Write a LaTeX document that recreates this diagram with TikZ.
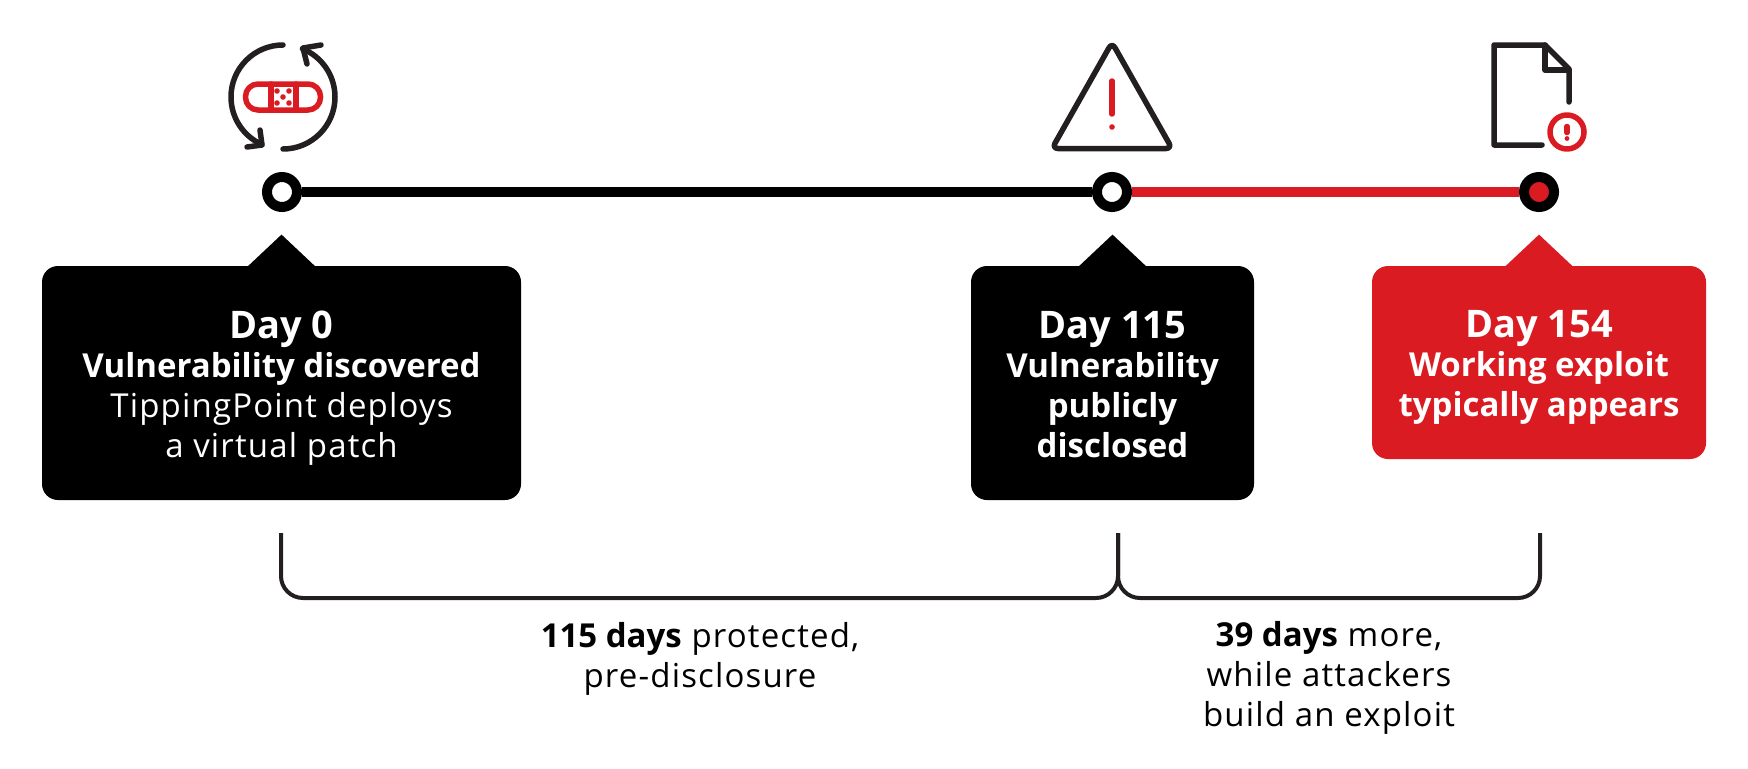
\documentclass[tikz,border=0pt]{standalone}
\usepackage{fontspec}
\setmainfont{Open Sans}[UprightFeatures={LetterSpace=3.5},BoldFeatures={LetterSpace=0}]
\usetikzlibrary{positioning}
\definecolor{alertred}{RGB}{218,27,34}
\definecolor{inkgrey}{RGB}{35,31,32}
\newcommand{\daytitle}[1]{{\fontsize{19}{23}\selectfont\bfseries\rule{0pt}{18.5pt}#1}}

\begin{document}
\begin{tikzpicture}[
  x=0.5pt,y=0.5pt,
  stop/.style={circle,draw=black,line width=5pt,minimum size=15pt,inner sep=0pt,fill=white},
  rail/.style={line width=5pt},
  daybox/.style={rounded corners=8pt,align=center,text=white,inner sep=0pt,font=\fontsize{16.5}{20}\selectfont},
  note/.style={align=center,font=\fontsize{16.5}{20}\selectfont},
  brace/.style={inkgrey,line width=2pt,rounded corners=11pt},
  icon/.style={inkgrey,line width=2.75pt,line cap=round,line join=round},
  redicon/.style={alertred,line width=2.75pt,line cap=round,line join=round}
]
  \useasboundingbox (0,0) rectangle (1748,768);
  % timeline
  \node[stop] (d0) at (282,576) {};
  \node[stop] (d115) at (1112,576) {};
  \node[stop,fill=alertred] (d154) at (1539,576) {};
  \draw[rail,black] (d0) -- (d115);
  \draw[rail,alertred] (d115) -- (d154);
  % boxes
  \node[daybox,fill=black,minimum width=239.5pt,minimum height=117pt] (b0) at (281.5,385) {\daytitle{Day 0}\\[-.5pt]\textbf{Vulnerability discovered}\\TippingPoint deploys\\a virtual patch};
  \node[daybox,fill=black,minimum width=141.5pt,minimum height=117pt] (b115) at (1112.5,385) {\daytitle{Day 115}\\[-.5pt]\textbf{Vulnerability}\\\textbf{publicly}\\\textbf{disclosed}\rule[-3.5pt]{0pt}{1pt}};
  \node[daybox,fill=alertred,minimum width=167pt,minimum height=96.5pt] (b154) at (1539,405.5) {\daytitle{Day 154}\\[-.5pt]\textbf{Working exploit}\\\textbf{typically appears}};
  \foreach \boxname/\tipcol in {b0/black,b115/black,b154/alertred}
    \fill[\tipcol] ([xshift=-17pt,yshift=-.5pt]\boxname.north) -- ([yshift=15.5pt]\boxname.north) -- ([xshift=17pt,yshift=-.5pt]\boxname.north) -- cycle;
  % brackets
  \coordinate (brA) at (281,235);
  \coordinate (brB) at (1118,235);
  \coordinate (brC) at (1540,235);
  \coordinate (brLow) at (0,170);
  \draw[brace] (brA) -- (brA |- brLow) -- (brB |- brLow) -- (brB);
  \draw[brace] (brC) -- (brC |- brLow) -- (brB |- brLow) -- (brB);
  \node[note] (n115) at (700,109.5) {\textbf{115 days} protected,\\pre-disclosure};
  \node[note] (n39) at (1329,90) {\textbf{39 days} more,\\while attackers\\build an exploit};
  % patch icon
  \draw[icon] (283,723) arc[start angle=90,end angle=246,radius=26pt];
  \draw[icon] (247,621) -- (262,623) -- (260,638);
  \draw[icon] (283,619) arc[start angle=270,end angle=428,radius=26pt];
  \draw[icon] (321,723) -- (303,720) -- (307,704);
  \draw[redicon,rounded corners=6.25pt] (245.5,658) rectangle (320.5,684);
  \draw[redicon] (271,658) -- (271,684) (296,658) -- (296,684);
  \foreach \dotx/\doty in {277/677,289/677,283/671,277/665,289/665}
    \fill[alertred] (\dotx,\doty) circle (1.4pt);
  % warning icon
  \draw[icon,rounded corners=3pt] (1112,725.5) -- (1052,619.5) -- (1172,619.5) -- cycle;
  \draw[redicon] (1112,687) -- (1112,654);
  \fill[alertred] (1112,641) circle (1.4pt);
  % file icon
  \draw[icon] (1542,623) -- (1494,623) -- (1494,723) -- (1545,723) -- (1569,699) -- (1569,666);
  \draw[icon] (1545,723) -- (1545,698) -- (1569,698);
  \draw[redicon] (1567,636) circle (8.5pt);
  \draw[redicon] (1567,641.5) -- (1567,635.5);
  \fill[alertred] (1567,629.5) circle (1.2pt);
\end{tikzpicture}
\end{document}
